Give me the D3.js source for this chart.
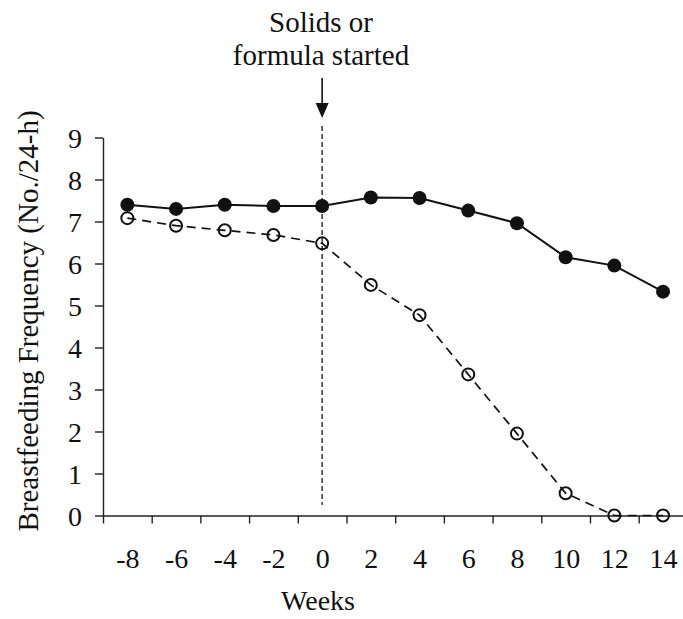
<!DOCTYPE html>
<html>
<head>
<meta charset="utf-8">
<script src="https://cdn.jsdelivr.net/npm/d3@7"></script>
</head>
<body style="margin:0">
<svg id="chart" width="683" height="619" font-family="Liberation Serif"></svg>
<script>
// data
const weeks = [-8, -6, -4, -2, 0, 2, 4, 6, 8, 10, 12, 14];
const breastOnly = [7.4, 7.3, 7.4, 7.37, 7.37, 7.57, 7.56, 7.26, 6.96, 6.15, 5.95, 5.33];
const supplemented = [7.08, 6.9, 6.79, 6.68, 6.48, 5.49, 4.77, 3.36, 1.95, 0.53, 0, 0];
const yTicks = [0, 1, 2, 3, 4, 5, 6, 7, 8, 9];
const xTicks = [-9, -7, -5, -3, -1, 1, 3, 5, 7, 9, 11, 13];
const startWeek = 0;

const FONT = "Liberation Serif";
const svg = d3.select("#chart");

// scales
const x = d3.scaleLinear().domain([-9, 14.82]).range([103, 683]);
const y = d3.scaleLinear().domain([0, 9]).range([515.5, 137.5]);

// y axis
const yAxis = svg.append("g")
    .attr("transform", `translate(${x(-9)},0)`)
    .call(d3.axisLeft(y).tickValues(yTicks).tickSize(8).tickSizeOuter(0).tickPadding(13));
yAxis.selectAll("text").attr("dy", "0.34em");

// x axis: ticks between the weeks, labels at the weeks
svg.append("g")
    .attr("transform", `translate(0,${y(0)})`)
    .call(d3.axisBottom(x).tickValues(xTicks).tickSize(8).tickSizeOuter(0).tickFormat(""));
svg.append("g")
    .attr("transform", `translate(0,${y(0)})`)
    .call(d3.axisBottom(x).tickValues(weeks).tickSize(0).tickPadding(52.5).tickFormat(d => String(d)))
    .call(g => g.select(".domain").remove())
    .selectAll("text").attr("dy", "0");

svg.selectAll("g").attr("font-family", FONT).attr("font-size", 28);
svg.selectAll(".domain, .tick line").attr("stroke", "#222").attr("stroke-width", 1.4);
svg.selectAll(".tick text").attr("fill", "#111");

// axis titles
svg.append("text")
    .attr("x", 318).attr("y", 610)
    .attr("text-anchor", "middle")
    .attr("font-family", FONT).attr("font-size", 28)
    .attr("fill", "#111")
    .text("Weeks");

svg.append("text")
    .attr("transform", "translate(38,321) rotate(-90)")
    .attr("text-anchor", "middle")
    .attr("font-family", FONT).attr("font-size", 29)
    .attr("fill", "#111")
    .text("Breastfeeding Frequency (No./24-h)");

// annotation
svg.append("text")
    .attr("x", 321).attr("y", 32)
    .attr("text-anchor", "middle")
    .attr("font-family", FONT).attr("font-size", 29)
    .attr("fill", "#111")
    .text("Solids or");
svg.append("text")
    .attr("x", 321).attr("y", 65)
    .attr("text-anchor", "middle")
    .attr("font-family", FONT).attr("font-size", 29)
    .attr("fill", "#111")
    .text("formula started");

svg.append("line")
    .attr("x1", x(startWeek)).attr("x2", x(startWeek))
    .attr("y1", 78).attr("y2", 105)
    .attr("stroke", "#111").attr("stroke-width", 1.6);
svg.append("path")
    .attr("d", `M${x(startWeek) - 6.5},103 L${x(startWeek) + 6.5},103 L${x(startWeek)},118 Z`)
    .attr("fill", "#111");

svg.append("line")
    .attr("x1", x(startWeek)).attr("x2", x(startWeek))
    .attr("y1", 126).attr("y2", 505)
    .attr("stroke", "#333").attr("stroke-width", 1.5)
    .attr("stroke-dasharray", "5,3");

// series
const line = d3.line().x(d => x(d[0])).y(d => y(d[1]));
const solidPts = weeks.map((w, i) => [w, breastOnly[i]]);
const openPts = weeks.map((w, i) => [w, supplemented[i]]);

svg.append("path")
    .datum(openPts)
    .attr("d", line)
    .attr("fill", "none")
    .attr("stroke", "#111")
    .attr("stroke-width", 1.7)
    .attr("stroke-dasharray", "9,6");

svg.append("path")
    .datum(solidPts)
    .attr("d", line)
    .attr("fill", "none")
    .attr("stroke", "#111")
    .attr("stroke-width", 2);

svg.selectAll("circle.open")
    .data(openPts)
    .enter().append("circle")
    .attr("class", "open")
    .attr("cx", d => x(d[0]))
    .attr("cy", d => y(d[1]))
    .attr("r", 6)
    .attr("fill", "none")
    .attr("stroke", "#111")
    .attr("stroke-width", 2);

svg.selectAll("circle.solid")
    .data(solidPts)
    .enter().append("circle")
    .attr("class", "solid")
    .attr("cx", d => x(d[0]))
    .attr("cy", d => y(d[1]))
    .attr("r", 7)
    .attr("fill", "#111");
</script>
</body>
</html>
